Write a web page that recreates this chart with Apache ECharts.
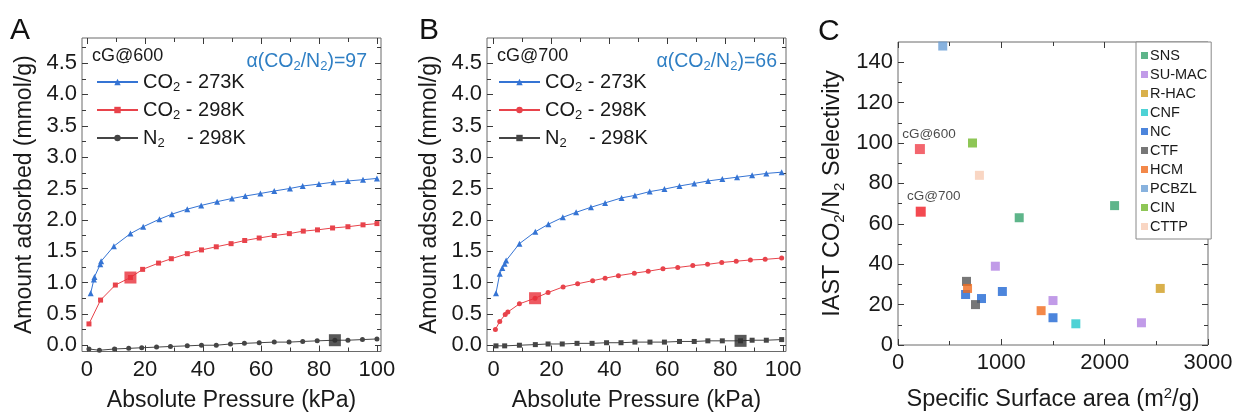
<!DOCTYPE html>
<html><head><meta charset="utf-8">
<script src="https://cdn.jsdelivr.net/npm/echarts@6/dist/echarts.min.js"></script>
<style>html,body{margin:0;padding:0;background:#fff}#c{width:1238px;height:417px}</style>
</head><body><div id="c"></div>
<script>
// ---------- Panel A (cG@600) ----------
const A_x273 = [1.3, 2.4, 2.6, 4.6, 4.9, 9.3, 15, 19.4, 25, 29.3, 34.6, 39.4, 44.9, 50, 54.6, 59.8, 64.6, 70, 74.4, 80, 85, 90, 95.2, 100];
const A_y273 = [0.83, 1.05, 1.09, 1.29, 1.34, 1.58, 1.78, 1.89, 2.01, 2.09, 2.17, 2.23, 2.29, 2.34, 2.38, 2.42, 2.46, 2.50, 2.54, 2.57, 2.60, 2.62, 2.64, 2.66];
const A_x298 = [0.7, 4.7, 9.8, 15, 19.2, 24.7, 29.1, 34.6, 39.5, 44.6, 49.7, 54.4, 59.4, 64.6, 69.8, 74.6, 79.5, 84.7, 90, 95.2, 100];
const A_y298 = [0.34, 0.72, 0.96, 1.08, 1.21, 1.31, 1.38, 1.46, 1.52, 1.57, 1.62, 1.67, 1.71, 1.75, 1.78, 1.82, 1.84, 1.87, 1.89, 1.92, 1.94];
const A_xN2 = [0.7, 4.3, 9.5, 14.4, 18.9, 24, 28.8, 34.6, 39.5, 44.6, 49.5, 54.3, 59.4, 64.6, 69.7, 74.4, 79.4, 85.5, 90, 95, 100];
const A_yN2 = [-0.06, -0.08, -0.06, -0.05, -0.04, -0.03, -0.02, -0.01, 0.0, 0.0, 0.02, 0.03, 0.04, 0.05, 0.05, 0.06, 0.07, 0.08, 0.08, 0.09, 0.10];
const A_hiCO2 = [15, 1.08];
const A_hiN2 = [85.5, 0.08];
const A_title = 'cG@600';
const A_alpha = '97';

// ---------- Panel B (cG@700) ----------
const B_x273 = [0.8, 2.1, 3.0, 3.8, 4.3, 8.9, 14.4, 18.9, 23.9, 28.5, 33.6, 38.5, 44.2, 48.8, 53.9, 59, 64.2, 69.3, 74.1, 79, 84.1, 89.3, 94.2, 99.5];
const B_y273 = [0.83, 1.14, 1.23, 1.30, 1.35, 1.62, 1.81, 1.93, 2.04, 2.12, 2.20, 2.27, 2.35, 2.39, 2.45, 2.49, 2.54, 2.58, 2.62, 2.65, 2.68, 2.71, 2.74, 2.76];
const B_x298 = [0.6, 2.1, 4.0, 4.9, 8.9, 14.3, 18.8, 24, 29, 34.2, 38.5, 43.1, 48.6, 53.4, 58.5, 63.6, 68.8, 73.9, 78.8, 83.8, 88.7, 93.8, 99.5];
const B_y298 = [0.25, 0.38, 0.49, 0.53, 0.66, 0.75, 0.84, 0.93, 0.98, 1.03, 1.07, 1.11, 1.15, 1.18, 1.22, 1.24, 1.27, 1.29, 1.32, 1.34, 1.36, 1.37, 1.39];
const B_xN2 = [0.8, 3.8, 8.9, 14.4, 18.8, 23.7, 28.8, 34, 39, 44, 48.8, 54, 59, 64.2, 69.3, 74, 79, 85.3, 89.3, 94.2, 99.5];
const B_yN2 = [-0.01, -0.01, 0.0, 0.01, 0.02, 0.02, 0.03, 0.03, 0.04, 0.04, 0.05, 0.05, 0.05, 0.06, 0.06, 0.07, 0.07, 0.07, 0.08, 0.08, 0.09];
const B_hiCO2 = [14.3, 0.75];
const B_hiN2 = [85.3, 0.07];
const B_title = 'cG@700';
const B_alpha = '66';

// ---------- Panel C (selectivity vs surface area) ----------
const C_names = ['SNS', 'SU-MAC', 'R-HAC', 'CNF', 'NC', 'CTF', 'HCM', 'PCBZL', 'CIN', 'CTTP'];
const C_SNS = [[1173, 63], [2096, 69]];
const C_SUMAC = [[942, 39], [1500, 22], [2356, 11]];
const C_RHAC = [[2538, 28]];
const C_CNF = [[1721, 10.5]];
const C_NC = [[654, 25], [808, 23], [1010, 26.5], [1500, 13.5]];
const C_CTF = [[663, 31.5], [750, 20]];
const C_HCM = [[673, 28], [1385, 17]];
const C_PCBZL = [[433, 148]];
const C_CIN = [[721, 100]];
const C_CTTP = [[788, 84]];
const C_cG = [['cG@600', 212, 97], ['cG@700', 220, 66]];

// ---------- ticks ----------
const P_xMajor = [0, 20, 40, 60, 80, 100];
const P_xMinor = [10, 30, 50, 70, 90];
const P_yMajor = [0, 0.5, 1, 1.5, 2, 2.5, 3, 3.5, 4, 4.5];
const P_yMinor = [0.25, 0.75, 1.25, 1.75, 2.25, 2.75, 3.25, 3.75, 4.25, 4.75];
const C_xMajor = [0, 1000, 2000, 3000];
const C_xMinor = [500, 1500, 2500];
const C_yMajor = [0, 20, 40, 60, 80, 100, 120, 140];
const C_yMinor = [10, 30, 50, 70, 90, 110, 130];

const FONT = "'Liberation Sans', Arial, Helvetica, sans-serif";
const TXT = '#1a1a1a';
const TICKC = '#3a3a3a';
const BLUE = '#3574d4', RED = '#e8434b', BLACK = '#454545';
const ALPHA_C = '#2f7fc4';

const zip = (xs, ys) => xs.map((x, i) => [x, ys[i]]);

function axes(dim, gridIndex, min, max, majors, minors, fmt, fontSize, name, nameGap, rich) {
  const base = {type: 'value', gridIndex, min, max, scale: false,
    axisLine: {show: false, onZero: false}, splitLine: {show: false}, animation: false};
  const pos1 = dim === 'x' ? 'bottom' : 'left';
  const pos2 = dim === 'x' ? 'top' : 'right';
  const tick = (vals, len) => ({show: true, inside: true, length: len, customValues: vals,
    lineStyle: {color: TICKC, width: 1}});
  const main = Object.assign({}, base, {
    position: pos1, axisTick: tick(majors, 6),
    axisLabel: {show: true, customValues: majors, formatter: fmt, fontFamily: FONT,
      fontSize: fontSize, color: TXT, margin: dim === 'x' ? 7 : 5},
    name: name, nameLocation: 'middle', nameGap: nameGap,
    nameTextStyle: {fontFamily: FONT, color: TXT, rich: rich}
  });
  const hidden = {show: false};
  return [
    main,
    Object.assign({}, base, {position: pos1, axisTick: tick(minors, 4), axisLabel: hidden}),
    Object.assign({}, base, {position: pos2, axisTick: tick(majors, 6), axisLabel: hidden}),
    Object.assign({}, base, {position: pos2, axisTick: tick(minors, 4), axisLabel: hidden})
  ];
}

const richAxis = {
  t: {fontSize: 23, fontFamily: FONT, color: TXT, lineHeight: 28},
  s: {fontSize: 15, fontFamily: FONT, color: TXT, lineHeight: 17, verticalAlign: 'bottom'},
  p: {fontSize: 15, fontFamily: FONT, color: TXT, lineHeight: 17, verticalAlign: 'top'}
};
const richAxisC = {
  t: {fontSize: 23.5, fontFamily: FONT, color: TXT, lineHeight: 28},
  s: {fontSize: 15, fontFamily: FONT, color: TXT, lineHeight: 17, verticalAlign: 'bottom'},
  p: {fontSize: 15, fontFamily: FONT, color: TXT, lineHeight: 17, verticalAlign: 'top'}
};

const fmt1 = v => v.toFixed(1);
const fmt0 = v => String(Math.round(v));

const grids = [
  {left: 82, top: 38, width: 299, height: 316},
  {left: 487, top: 38, width: 299, height: 316},
  {left: 898, top: 42, width: 310, height: 305}
].map(g => Object.assign(g, {show: true, borderColor: '#6a6a6a', borderWidth: 1, backgroundColor: 'transparent'}));

const pName = 'Absolute Pressure (kPa)';
const yName = 'Amount adsorbed (mmol/g)';
const xAxes = [].concat(
  axes('x', 0, -1.7, 101.4, P_xMajor, P_xMinor, fmt0, 22, '{t|' + pName + '}', 35, richAxis),
  axes('x', 1, -2.3, 101.0, P_xMajor, P_xMinor, fmt0, 22, '{t|' + pName + '}', 35, richAxis),
  axes('x', 2, 0, 3000, C_xMajor, C_xMinor, fmt0, 22, '{t|Specific Surface area (m}{p|2}{t|/g)}', 41, richAxisC)
);
const yAxes = [].concat(
  axes('y', 0, -0.1, 4.9, P_yMajor, P_yMinor, fmt1, 22, '{t|' + yName + '}', 43, richAxis),
  axes('y', 1, -0.1, 4.9, P_yMajor, P_yMinor, fmt1, 22, '{t|' + yName + '}', 43, richAxis),
  axes('y', 2, 0, 150, C_yMajor, C_yMinor, fmt0, 22, '{t|IAST CO}{s|2}{t|/N}{s|2}{t| Selectivity}', 51, richAxisC)
);

function lineSeries(panel, label, xs, ys, color, symbol, size) {
  const ai = panel * 4;
  return {type: 'line', name: (panel === 0 ? 'A|' : 'B|') + label, xAxisIndex: ai, yAxisIndex: ai,
    data: zip(xs, ys), symbol: symbol, symbolSize: size, showSymbol: true,
    lineStyle: {color: color, width: 1}, itemStyle: {color: color}, animation: false, z: 3};
}
function hiSeries(panel, pt, color, nm) {
  const ai = panel * 4;
  return {type: 'scatter', name: nm, xAxisIndex: ai, yAxisIndex: ai, data: [pt],
    symbol: 'rect', symbolSize: 12, itemStyle: {color: color}, animation: false, z: 5};
}

const C_colors = {
  'SNS': '#36a36d', 'SU-MAC': '#b282e2', 'R-HAC': '#d09c1e', 'CNF': '#22c7cb',
  'NC': '#1f66d3', 'CTF': '#555555', 'HCM': '#f06a1c', 'PCBZL': '#6a9fd6',
  'CIN': '#72b82c', 'CTTP': '#f8ccb4'
};
const C_data = {
  'SNS': C_SNS, 'SU-MAC': C_SUMAC, 'R-HAC': C_RHAC, 'CNF': C_CNF, 'NC': C_NC,
  'CTF': C_CTF, 'HCM': C_HCM, 'PCBZL': C_PCBZL, 'CIN': C_CIN, 'CTTP': C_CTTP
};

const series = [
  lineSeries(0, 'CO2 - 273K', A_x273, A_y273, BLUE, 'triangle', 6),
  lineSeries(0, 'CO2 - 298K', A_x298, A_y298, RED, 'rect', 5),
  lineSeries(0, 'N2 - 298K', A_xN2, A_yN2, BLACK, 'circle', 5),
  hiSeries(0, A_hiCO2, '#e8303a', 'hiA1'),
  hiSeries(0, A_hiN2, '#2e2e2e', 'hiA2'),
  lineSeries(1, 'CO2 - 273K', B_x273, B_y273, BLUE, 'triangle', 6),
  lineSeries(1, 'CO2 - 298K', B_x298, B_y298, RED, 'circle', 5),
  lineSeries(1, 'N2 - 298K', B_xN2, B_yN2, BLACK, 'rect', 5),
  hiSeries(1, B_hiCO2, '#e8303a', 'hiB1'),
  hiSeries(1, B_hiN2, '#2e2e2e', 'hiB2')
];
C_names.forEach(n => {
  series.push({type: 'scatter', name: n, xAxisIndex: 8, yAxisIndex: 8, data: C_data[n],
    symbol: 'rect', symbolSize: 9, itemStyle: {color: C_colors[n]}, animation: false});
});
const cgOffsets = [[9, 0], [13, 0]];
series.push({type: 'scatter', name: 'cG', xAxisIndex: 8, yAxisIndex: 8,
  data: C_cG.map((d, i) => ({name: d[0], value: [d[1], d[2]],
    itemStyle: {color: i === 0 ? '#f0404a' : '#f01c24'},
    label: {offset: cgOffsets[i]}})),
  symbol: 'rect', symbolSize: 10, animation: false,
  label: {show: true, position: 'top', distance: 3, formatter: '{b}', fontFamily: FONT,
    fontSize: 13.5, color: TXT}});

const legRich = {
  t: {fontSize: 20, fontFamily: FONT, color: TXT, lineHeight: 24},
  s: {fontSize: 13, fontFamily: FONT, color: TXT, lineHeight: 14, verticalAlign: 'bottom'}
};
const legFmt = name => {
  const n = name.split('|')[1];
  if (n.startsWith('CO2')) return '{t|CO}{s|2}{t|' + n.slice(3) + '}';
  return '{t|N}{s|2}{t|   ' + n.slice(2) + '}';
};
function pLegend(prefix, left) {
  return {orient: 'vertical', left: left, top: 72, itemWidth: 41, itemHeight: 8, itemGap: 6,
    selectedMode: false, padding: 0,
    data: ['CO2 - 273K', 'CO2 - 298K', 'N2 - 298K'].map(n => prefix + n),
    formatter: legFmt, textStyle: {rich: legRich, fontFamily: FONT, fontSize: 20, color: TXT}};
}

const alphaRich = {
  t: {fontSize: 19.5, fontFamily: FONT, fill: ALPHA_C, lineHeight: 22},
  s: {fontSize: 13, fontFamily: FONT, fill: ALPHA_C, lineHeight: 12, verticalAlign: 'bottom'}
};
const alphaText = v => '{t|α(CO}{s|2}{t|/N}{s|2}{t|)=' + v + '}';

const option = {
  animation: false,
  backgroundColor: '#fff',
  grid: grids,
  xAxis: xAxes,
  yAxis: yAxes,
  legend: [
    pLegend('A|', 96),
    pLegend('B|', 498),
    {orient: 'vertical', left: 1136, top: 42, itemWidth: 7, itemHeight: 7, itemGap: 4,
     selectedMode: false, icon: 'rect', padding: [6, 4, 5, 5], borderColor: '#888', borderWidth: 1,
     backgroundColor: '#fff', data: C_names,
     textStyle: {fontFamily: FONT, fontSize: 14.5, color: TXT, padding: [0, 0, 0, -3]}}
  ],
  graphic: [
    {type: 'text', left: 10, top: 16, style: {text: 'A', font: '30px ' + FONT, fill: '#111'}},
    {type: 'text', left: 419, top: 16, style: {text: 'B', font: '30px ' + FONT, fill: '#111'}},
    {type: 'text', left: 818, top: 17, style: {text: 'C', font: '30px ' + FONT, fill: '#111'}},
    {type: 'text', left: 92, top: 47, style: {text: A_title, font: '18px ' + FONT, fill: TXT}},
    {type: 'text', left: 497, top: 47, style: {text: B_title, font: '18px ' + FONT, fill: TXT}},
    {type: 'text', right: 1238 - 367, top: 52, style: {text: alphaText(A_alpha), rich: alphaRich}},
    {type: 'text', right: 1238 - 777, top: 52, style: {text: alphaText(B_alpha), rich: alphaRich}}
  ],
  series: series
};

const chart = echarts.init(document.getElementById('c'), null, {renderer: 'canvas'});
chart.setOption(option);
</script>
</body></html>
